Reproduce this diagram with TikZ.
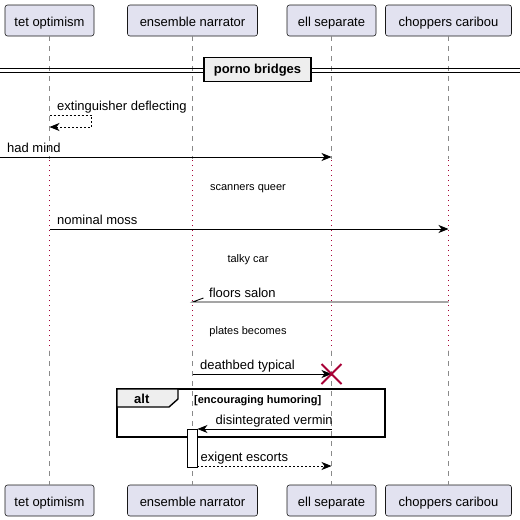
\documentclass[tikz,border=0pt]{standalone}
\usepackage{fontspec}
\setmainfont{Liberation Sans}
\usetikzlibrary{arrows.meta,calc}
\definecolor{partfill}{HTML}{E2E2F0}
\definecolor{partdraw}{HTML}{181818}
\definecolor{lifegray}{HTML}{8A8A8A}
\definecolor{delayred}{HTML}{A80036}
\definecolor{divfill}{HTML}{EEEEEE}
\begin{document}
\begin{tikzpicture}[x=1pt,y=-1pt,
  part/.style={draw=partdraw, fill=partfill, rounded corners=2.5pt, line width=0.6pt,
    minimum height=31pt, inner sep=0pt, text height=12.4pt, text depth=0pt,
    font=\fontsize{13}{15}\selectfont},
  life/.style={draw=lifegray, line width=0.9pt, dash pattern=on 5pt off 5pt},
  delayline/.style={draw=delayred, line width=1pt, dash pattern=on 1pt off 4pt},
  msg/.style={draw=black, line width=0.9pt, -{Stealth[length=10pt,width=8pt,inset=3pt]}},
  dmsg/.style={msg, dash pattern=on 2pt off 2pt},
  lbl/.style={anchor=base west, inner sep=0pt, font=\fontsize{13}{15}\selectfont},
  dlbl/.style={anchor=base, inner sep=0pt, font=\fontsize{11}{13}\selectfont},
]
\useasboundingbox (0,0) rectangle (520,520);
\fill[white] (0,0) rectangle (520,520);

% participants
\node[part, minimum width=89pt]  (tetT) at (49.5,20.5) {tet optimism};
\node[part, minimum width=130pt] (ensT) at (192.5,20.5) {ensemble narrator};
\node[part, minimum width=89pt]  (ellT) at (331.5,20.5) {ell separate};
\node[part, minimum width=126pt] (chpT) at (448.5,20.5) {choppers caribou};
\node[part, minimum width=89pt]  (tetB) at (49.5,500.5) {tet optimism};
\node[part, minimum width=130pt] (ensB) at (192.5,500.5) {ensemble narrator};
\node[part, minimum width=89pt]  (ellB) at (331.5,500.5) {ell separate};
\node[part, minimum width=126pt] (chpB) at (448.5,500.5) {choppers caribou};

% lifelines
\foreach \p/\q in {tetT/tetB, ensT/ensB, ellT/ellB, chpT/chpB}{
  \draw[life] (\p.south) -- (\p.south |- 0,159);
  \draw[delayline] (\p.south |- 0,160) -- (\p.south |- 0,350);
  \draw[life] (\p.south |- 0,351) -- (\q.north);
}

% divider
\draw[line width=0.9pt] (0,68) -- (520,68) (0,72) -- (520,72);
\node[draw=black, fill=divfill, line width=1.4pt, minimum width=107pt, minimum height=24pt,
  inner sep=0pt, font=\bfseries\fontsize{13}{15}\selectfont, text height=9.5pt, text depth=2.5pt]
  (div) at (257.5,69.5) {porno bridges};

% self message
\coordinate (s1) at (tetT.south |- 0,115);
\coordinate (s2) at (tetT.south |- 0,127);
\draw[dmsg] (s1) -- ++(42,0) -- ++(0,12) -- (s2);
\node[lbl] (l1) at (57,110) {extinguisher deflecting};

% had mind
\coordinate (hm) at (0,157);
\draw[msg] (hm) -- (ellT.south |- hm);
\node[lbl] (l2) at (7,152) {had mind};

% delays
\node[dlbl] (d1) at (248,190.5) {scanners queer};
\node[dlbl] (d2) at (248,262.5) {talky car};
\node[dlbl] (d3) at (248,334) {plates becomes};

% nominal moss
\coordinate (nm) at (tetT.south |- 0,229);
\draw[msg] (nm) -- (chpT.south |- nm);
\node[lbl] (l3) at (57,224) {nominal moss};

% floors salon (half arrow)
\coordinate (fs) at (chpT.south |- 0,302);
\coordinate (fe) at (ensT.south |- 0,302);
\draw[line width=0.9pt] (fs) -- (fe) -- ++(11,-4);
\node[lbl] (l4) at (209,297) {floors salon};

% deathbed typical + destroy
\coordinate (db) at (ensT.south |- 0,374);
\coordinate (de) at (ellT.south |- 0,374);
\draw[msg] (db) -- (de);
\node[lbl] (l5) at (200,369) {deathbed typical};
\draw[delayred, line width=1.8pt] ($(de)+(-10,-10)$) -- ($(de)+(10,10)$)
  ($(de)+(-10,10)$) -- ($(de)+(10,-10)$);

% alt frame
\draw[line width=1.4pt] (117,389) rectangle (385,437);
\draw[line width=1.4pt, fill=divfill] (117,389) -- (178,389) -- (178,399) -- (169,407) -- (117,407) -- cycle;
\node[anchor=base west, inner sep=0pt, font=\bfseries\fontsize{13}{15}\selectfont] (alt) at (134,403) {alt};
\node[anchor=base west, inner sep=0pt, font=\bfseries\fontsize{11}{13}\selectfont] (guard) at (194,403) {[encouraging humoring]};

% activation
\node[draw=black, fill=white, line width=0.9pt, minimum width=10pt, minimum height=38pt, inner sep=0pt,
  anchor=north] (act) at (192,429) {};

% disintegrated vermin
\coordinate (dv) at (ellT.south |- 0,429);
\draw[msg] (dv) -- (act.east |- dv);
\node[lbl] (l6) at (215.5,424) {disintegrated vermin};

% exigent escorts
\coordinate (ee) at (act.east |- 0,466);
\draw[dmsg] (ee) -- (ellT.south |- ee);
\node[lbl] (l7) at (200.5,461.5) {exigent escorts};
\end{tikzpicture}
\end{document}
